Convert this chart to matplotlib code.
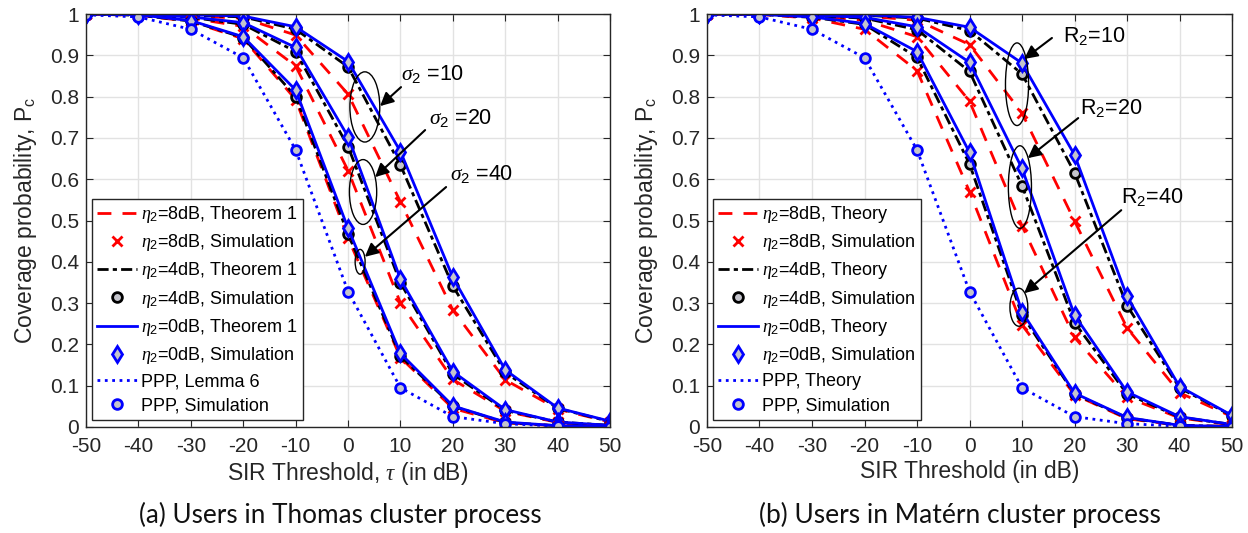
import matplotlib
matplotlib.use('Agg')
import matplotlib.pyplot as plt
from matplotlib.patches import Ellipse

plt.rcParams['font.family'] = ['Liberation Sans', 'DejaVu Sans']
plt.rcParams['mathtext.fontset'] = 'custom'
plt.rcParams['mathtext.rm'] = 'Liberation Sans'
plt.rcParams['mathtext.it'] = 'Liberation Serif:italic'
plt.rcParams['axes.unicode_minus'] = False

# SIR threshold (dB)
sir_db = [-50, -40, -30, -20, -10, 0, 10, 20, 30, 40, 50]

# (a) Thomas cluster process, sigma_2 = 10 / 20 / 40
thomas_s10_eta8 = [1.0, 0.999, 0.995, 0.99, 0.949, 0.806, 0.545, 0.283, 0.114, 0.043, 0.012]
thomas_s10_eta4 = [1.0, 0.999, 0.997, 0.993, 0.963, 0.872, 0.634, 0.341, 0.132, 0.045, 0.013]
thomas_s10_eta0 = [1.0, 1.0, 0.998, 0.995, 0.969, 0.885, 0.667, 0.362, 0.138, 0.046, 0.014]
thomas_s20_eta8 = [1.0, 0.998, 0.99, 0.97, 0.874, 0.621, 0.300, 0.115, 0.038, 0.011, 0.003]
thomas_s20_eta4 = [1.0, 0.999, 0.992, 0.975, 0.909, 0.679, 0.349, 0.128, 0.040, 0.012, 0.004]
thomas_s20_eta0 = [1.0, 0.999, 0.993, 0.979, 0.919, 0.703, 0.358, 0.134, 0.042, 0.012, 0.004]
thomas_s40_eta8 = [1.0, 0.997, 0.982, 0.94, 0.793, 0.457, 0.168, 0.045, 0.010, 0.003, 0.001]
thomas_s40_eta4 = [1.0, 0.997, 0.983, 0.943, 0.800, 0.467, 0.172, 0.050, 0.011, 0.003, 0.001]
thomas_s40_eta0 = [1.0, 0.998, 0.984, 0.945, 0.816, 0.481, 0.178, 0.051, 0.012, 0.003, 0.001]

# (b) Matern cluster process, R_2 = 10 / 20 / 40
matern_r10_eta8 = [1.0, 1.0, 0.998, 0.995, 0.985, 0.926, 0.760, 0.499, 0.240, 0.083, 0.025]
matern_r10_eta4 = [1.0, 1.0, 0.999, 0.997, 0.990, 0.960, 0.855, 0.616, 0.294, 0.095, 0.027]
matern_r10_eta0 = [1.0, 1.0, 0.999, 0.998, 0.992, 0.968, 0.881, 0.659, 0.316, 0.098, 0.028]
matern_r20_eta8 = [1.0, 0.999, 0.995, 0.985, 0.945, 0.789, 0.487, 0.217, 0.072, 0.022, 0.005]
matern_r20_eta4 = [1.0, 1.0, 0.996, 0.990, 0.962, 0.861, 0.584, 0.253, 0.080, 0.024, 0.006]
matern_r20_eta0 = [1.0, 1.0, 0.997, 0.992, 0.969, 0.883, 0.626, 0.271, 0.085, 0.025, 0.006]
matern_r40_eta8 = [1.0, 0.999, 0.990, 0.963, 0.863, 0.570, 0.247, 0.078, 0.020, 0.004, 0.001]
matern_r40_eta4 = [1.0, 0.999, 0.992, 0.975, 0.895, 0.637, 0.271, 0.080, 0.022, 0.004, 0.001]
matern_r40_eta0 = [1.0, 0.999, 0.993, 0.977, 0.909, 0.665, 0.279, 0.082, 0.023, 0.004, 0.001]

# PPP baseline (same in both panels)
ppp = [0.998, 0.993, 0.963, 0.894, 0.671, 0.328, 0.095, 0.025, 0.008, 0.002, 0.0]

face = '#c4c4cc'
ink = '#262626'


def draw_panel(ax, groups, theory_name):
    # theory lines first, then the simulation markers on top
    for i, (r, k, b) in enumerate(groups):
        lab = (i == 0)
        ax.plot(sir_db, r, color='red', ls=(0, (5, 4)), lw=2,
                label=r'$\eta_2$=8dB, ' + theory_name if lab else None)
        ax.plot(sir_db, r, ls='none', marker='x', ms=7, mew=2, color='red',
                label=r'$\eta_2$=8dB, Simulation' if lab else None)
        ax.plot(sir_db, k, color='black', ls=(0, (4, 1.5, 1.5, 1.5)), lw=2,
                label=r'$\eta_2$=4dB, ' + theory_name if lab else None)
        ax.plot(sir_db, k, ls='none', marker='o', ms=7, mew=2, mec='black', mfc=face,
                label=r'$\eta_2$=4dB, Simulation' if lab else None)
        ax.plot(sir_db, b, color='blue', ls='-', lw=2,
                label=r'$\eta_2$=0dB, ' + theory_name if lab else None)
        ax.plot(sir_db, b, ls='none', marker='d', ms=8, mew=2, mec='blue', mfc=face,
                label=r'$\eta_2$=0dB, Simulation' if lab else None)
    ppp_name = 'Lemma 6' if theory_name == 'Theorem 1' else 'Theory'
    ax.plot(sir_db, ppp, color='blue', ls=':', lw=2, label='PPP, ' + ppp_name)
    ax.plot(sir_db, ppp, ls='none', marker='o', ms=7, mew=2, mec='blue', mfc=face,
            label='PPP, Simulation')

    ax.set_xlim(-50, 50)
    ax.set_ylim(0, 1)
    ax.set_xticks(range(-50, 51, 10))
    ax.set_yticks([i / 10 for i in range(11)])
    ax.set_yticklabels(['0'] + ['0.%d' % i for i in range(1, 10)] + ['1'])
    ax.grid(True, color='#e2e2e2', lw=1)
    ax.set_axisbelow(True)
    ax.tick_params(direction='in', top=True, right=True, labelsize=15,
                   length=5, colors=ink)
    ax.tick_params(axis='x', pad=7)
    ax.tick_params(axis='y', pad=5)
    for s in ax.spines.values():
        s.set_color(ink)
        s.set_linewidth(1)
    ax.set_ylabel('Coverage probability, P$_\\mathrm{c}$', fontsize=16.5, color=ink,
                  labelpad=8)

    h, l = ax.get_legend_handles_labels()
    leg = ax.legend(h, l, loc='lower left', bbox_to_anchor=(0.0115, 0.017),
                    borderaxespad=0, fontsize=13, fancybox=False, framealpha=1,
                    edgecolor=ink, handlelength=2.2, handletextpad=0.2,
                    labelspacing=0.4, borderpad=0.3)
    leg.get_frame().set_linewidth(1)


def note(ax, text, tx, ty, head, tail, ell):
    ex, ey, ew, eh = ell
    ax.add_patch(Ellipse((ex, ey), ew, eh, fill=False, ec='black', lw=1, zorder=5))
    ax.annotate('', xy=head, xytext=tail,
                arrowprops=dict(arrowstyle='-|>', color='black', lw=1.5,
                                mutation_scale=20, shrinkA=0, shrinkB=0), zorder=6)
    ax.text(tx, ty, text, fontsize=15.5, ha='left', va='baseline', zorder=6)


fig = plt.figure(figsize=(12.48, 5.33), dpi=100)
ax1 = fig.add_axes([0.0689, 0.1989, 0.42, 0.7748])
ax2 = fig.add_axes([0.5665, 0.1989, 0.4207, 0.7748])

draw_panel(ax1, [(thomas_s10_eta8, thomas_s10_eta4, thomas_s10_eta0),
                 (thomas_s20_eta8, thomas_s20_eta4, thomas_s20_eta0),
                 (thomas_s40_eta8, thomas_s40_eta4, thomas_s40_eta0)], 'Theorem 1')
draw_panel(ax2, [(matern_r10_eta8, matern_r10_eta4, matern_r10_eta0),
                 (matern_r20_eta8, matern_r20_eta4, matern_r20_eta0),
                 (matern_r40_eta8, matern_r40_eta4, matern_r40_eta0)], 'Theory')

ax1.set_xlabel(r'SIR Threshold, $\tau$ (in dB)', fontsize=16.5, color=ink, labelpad=3)
ax2.set_xlabel('SIR Threshold (in dB)', fontsize=16.5, color=ink, labelpad=3)

note(ax1, r'$\sigma_2$ =10', 10.1, 0.840, (6.1, 0.777), (10.1, 0.823), (3.2, 0.775, 5.7, 0.17))
note(ax1, r'$\sigma_2$ =20', 15.5, 0.734, (5.15, 0.605), (14.7, 0.719), (2.86, 0.569, 5.2, 0.157))
note(ax1, r'$\sigma_2$ =40', 19.5, 0.598, (3.2, 0.412), (18.7, 0.581), (2.3, 0.40, 1.9, 0.06))

note(ax2, r'R$_2$=10', 17.8, 0.933, (10.4, 0.891), (15.7, 0.942), (9.05, 0.83, 4.4, 0.20))
note(ax2, r'R$_2$=20', 21.0, 0.758, (11.1, 0.651), (20.7, 0.748), (9.6, 0.581, 4.4, 0.20))
note(ax2, r'R$_2$=40', 28.9, 0.542, (10.4, 0.324), (28.9, 0.525), (9.4, 0.29, 3.4, 0.092))

# sub-figure captions, sized to the width they take in the original
cap_font = ['Lato', 'Liberation Sans', 'DejaVu Sans']
captions = [(0.273, '(a) Users in Thomas cluster process'),
            (0.769, '(b) Users in Matérn cluster process')]
renderer = fig.canvas.get_renderer()
for cx, txt in captions:
    t = fig.text(cx, 0.034, txt, fontsize=20, ha='center', va='center',
                 family=cap_font, color='#111111')
    w = t.get_window_extent(renderer).width
    t.set_fontsize(20 * 402.0 / w)

fig.savefig('out.png', dpi=100)
